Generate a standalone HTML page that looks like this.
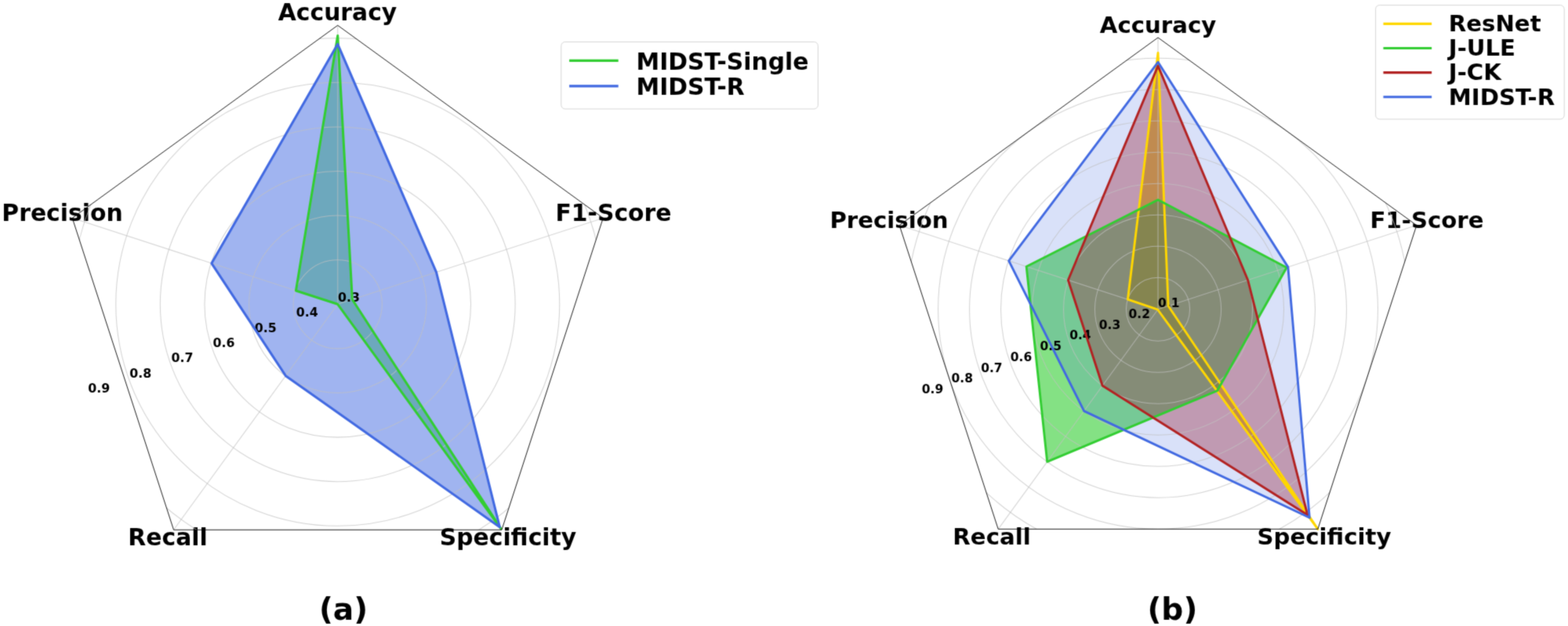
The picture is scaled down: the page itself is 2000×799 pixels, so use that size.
<!DOCTYPE html>
<html lang="en"><head><meta charset="utf-8"><title>Radar charts</title>
<style>
html,body{margin:0;padding:0;background:#fff;}
body{width:2000px;height:799px;overflow:hidden;}
svg{display:block;}
text{font-family:"DejaVu Sans","Liberation Sans",sans-serif;font-weight:bold;fill:#000;}
.ax{font-size:29.8px;}
.tk{font-size:15.8px;}
.lg{font-size:29.8px;}
.cap{font-size:39.2px;}
</style></head><body>
<svg width="2000" height="799" viewBox="0 0 2000 799">
<defs><filter id="soft" filterUnits="userSpaceOnUse" x="0" y="0" width="2000" height="799" color-interpolation-filters="sRGB"><feConvolveMatrix order="3" kernelMatrix="0.02560 0.10880 0.02560 0.10880 0.46240 0.10880 0.02560 0.10880 0.02560" divisor="1" edgeMode="duplicate" preserveAlpha="true"/></filter></defs><g filter="url(#soft)">
<rect x="-10" y="-10" width="2020" height="819" fill="#fff"/>
<clipPath id="clip0"><polygon points="430.75,32.35 92.22,278.31 221.53,676.27 639.97,676.27 769.28,278.31"/></clipPath>
<g clip-path="url(#clip0)">
<polygon points="430.75,45.59 377.46,370.98 430.75,388.30 639.01,674.95 449.32,382.27" fill="#32CD32" fill-opacity="0.5" stroke="none"/>
<polygon points="430.75,56.34 269.91,336.04 364.38,479.65 637.35,672.66 556.50,347.44" fill="#4169E1" fill-opacity="0.5" stroke="none"/>
<g fill="none" stroke="#c0c0c0" stroke-width="1.05" stroke-opacity="0.7">
<line x1="430.75" y1="388.3" x2="430.75" y2="32.35"/>
<line x1="430.75" y1="388.3" x2="92.22" y2="278.31"/>
<line x1="430.75" y1="388.3" x2="221.53" y2="676.27"/>
<line x1="430.75" y1="388.3" x2="639.97" y2="676.27"/>
<line x1="430.75" y1="388.3" x2="769.28" y2="278.31"/>
</g>
</g>
<text class="ax" x="430.5" y="25.7" text-anchor="middle">Accuracy</text>
<text class="ax" x="79.5" y="282" text-anchor="middle">Precision</text>
<text class="ax" x="782.5" y="282" text-anchor="middle">F1-Score</text>
<text class="ax" x="214" y="696" text-anchor="middle">Recall</text>
<text class="ax" x="648" y="695.5" text-anchor="middle">Specificity</text>
<g clip-path="url(#clip0)" fill="none" stroke="#c0c0c0" stroke-width="1.05" stroke-opacity="0.7">
<circle cx="430.75" cy="388.3" r="56.60"/>
<circle cx="430.75" cy="388.3" r="113.20"/>
<circle cx="430.75" cy="388.3" r="169.80"/>
<circle cx="430.75" cy="388.3" r="226.40"/>
<circle cx="430.75" cy="388.3" r="283.00"/>
<circle cx="430.75" cy="388.3" r="339.60"/>
</g>
<text class="tk" x="444.95" y="384.95" text-anchor="middle">0.3</text>
<text class="tk" x="391.82" y="404.26" text-anchor="middle">0.4</text>
<text class="tk" x="338.7" y="423.57" text-anchor="middle">0.5</text>
<text class="tk" x="285.57" y="442.88" text-anchor="middle">0.6</text>
<text class="tk" x="232.45" y="462.19" text-anchor="middle">0.7</text>
<text class="tk" x="179.32" y="481.5" text-anchor="middle">0.8</text>
<text class="tk" x="126.2" y="500.81" text-anchor="middle">0.9</text>
<polygon points="430.75,45.59 377.46,370.98 430.75,388.30 639.01,674.95 449.32,382.27" fill="none" stroke="#32CD32" stroke-width="3.05" stroke-linejoin="round"/>
<polygon points="430.75,56.34 269.91,336.04 364.38,479.65 637.35,672.66 556.50,347.44" fill="none" stroke="#4169E1" stroke-width="3.05" stroke-linejoin="round"/>
<polygon points="430.75,32.35 92.22,278.31 221.53,676.27 639.97,676.27 769.28,278.31" fill="none" stroke="#000" stroke-width="0.88" stroke-linejoin="miter"/>
<rect x="715.8" y="53.5" width="327.6" height="85.5" rx="5" fill="#fff" fill-opacity="0.8" stroke="#ccc" stroke-opacity="0.8" stroke-width="1"/>
<line x1="727.7" y1="77.4" x2="787.1" y2="77.4" stroke="#32CD32" stroke-width="3.2" stroke-linecap="square"/>
<text class="lg" x="811.5" y="88.5">MIDST-Single</text>
<line x1="727.7" y1="109.8" x2="787.1" y2="109.8" stroke="#4169E1" stroke-width="3.2" stroke-linecap="square"/>
<text class="lg" x="811.5" y="121.0">MIDST-R</text>
<text class="cap" x="438.1" y="791.0" text-anchor="middle">(a)</text>
<clipPath id="clip1"><polygon points="1477.05,47.95 1147.22,287.58 1273.21,675.32 1680.89,675.32 1806.88,287.58"/></clipPath>
<g clip-path="url(#clip1)">
<polygon points="1477.05,67.51 1438.46,382.21 1476.70,395.24 1680.91,675.34 1490.17,390.49" fill="#FFD700" fill-opacity="0.8" stroke="none"/>
<polygon points="1477.05,255.02 1309.18,340.20 1335.70,589.30 1552.60,498.74 1641.12,341.44" fill="#32CD32" fill-opacity="0.6" stroke="none"/>
<polygon points="1477.05,84.11 1362.41,357.50 1406.20,492.27 1667.75,657.23 1591.69,357.50" fill="#B22222" fill-opacity="0.4" stroke="none"/>
<polygon points="1477.05,79.27 1286.74,332.92 1382.70,524.61 1670.33,660.78 1642.87,340.87" fill="#4169E1" fill-opacity="0.2" stroke="none"/>
<g fill="none" stroke="#c0c0c0" stroke-width="1.05" stroke-opacity="0.7">
<line x1="1477.05" y1="394.75" x2="1477.05" y2="47.95"/>
<line x1="1477.05" y1="394.75" x2="1147.22" y2="287.58"/>
<line x1="1477.05" y1="394.75" x2="1273.21" y2="675.32"/>
<line x1="1477.05" y1="394.75" x2="1680.89" y2="675.32"/>
<line x1="1477.05" y1="394.75" x2="1806.88" y2="287.58"/>
</g>
</g>
<text class="ax" x="1477.05" y="42" text-anchor="middle" style="font-size:29.2px">Accuracy</text>
<text class="ax" x="1134" y="291.0" text-anchor="middle" style="font-size:29.2px">Precision</text>
<text class="ax" x="1820" y="291.0" text-anchor="middle" style="font-size:29.2px">F1-Score</text>
<text class="ax" x="1265" y="694.8" text-anchor="middle" style="font-size:29.2px">Recall</text>
<text class="ax" x="1689" y="694.9" text-anchor="middle" style="font-size:29.2px">Specificity</text>
<g clip-path="url(#clip1)" fill="none" stroke="#c0c0c0" stroke-width="1.05" stroke-opacity="0.7">
<circle cx="1477.05" cy="394.75" r="0.60"/>
<circle cx="1477.05" cy="394.75" r="40.58"/>
<circle cx="1477.05" cy="394.75" r="80.56"/>
<circle cx="1477.05" cy="394.75" r="120.54"/>
<circle cx="1477.05" cy="394.75" r="160.52"/>
<circle cx="1477.05" cy="394.75" r="200.50"/>
<circle cx="1477.05" cy="394.75" r="240.48"/>
<circle cx="1477.05" cy="394.75" r="280.46"/>
<circle cx="1477.05" cy="394.75" r="320.44"/>
</g>
<text class="tk" x="1490.85" y="392.15" text-anchor="middle" style="font-size:15.5px">0.1</text>
<text class="tk" x="1453.19" y="405.9" text-anchor="middle" style="font-size:15.5px">0.2</text>
<text class="tk" x="1415.53" y="419.65" text-anchor="middle" style="font-size:15.5px">0.3</text>
<text class="tk" x="1377.87" y="433.4" text-anchor="middle" style="font-size:15.5px">0.4</text>
<text class="tk" x="1340.21" y="447.15" text-anchor="middle" style="font-size:15.5px">0.5</text>
<text class="tk" x="1302.55" y="460.9" text-anchor="middle" style="font-size:15.5px">0.6</text>
<text class="tk" x="1264.89" y="474.65" text-anchor="middle" style="font-size:15.5px">0.7</text>
<text class="tk" x="1227.23" y="488.4" text-anchor="middle" style="font-size:15.5px">0.8</text>
<text class="tk" x="1189.57" y="502.15" text-anchor="middle" style="font-size:15.5px">0.9</text>
<polygon points="1477.05,67.51 1438.46,382.21 1476.70,395.24 1680.91,675.34 1490.17,390.49" fill="none" stroke="#FFD700" stroke-width="2.9" stroke-linejoin="round"/>
<polygon points="1477.05,255.02 1309.18,340.20 1335.70,589.30 1552.60,498.74 1641.12,341.44" fill="none" stroke="#32CD32" stroke-width="2.9" stroke-linejoin="round"/>
<polygon points="1477.05,84.11 1362.41,357.50 1406.20,492.27 1667.75,657.23 1591.69,357.50" fill="none" stroke="#B22222" stroke-width="2.9" stroke-linejoin="round"/>
<polygon points="1477.05,79.27 1286.74,332.92 1382.70,524.61 1670.33,660.78 1642.87,340.87" fill="none" stroke="#4169E1" stroke-width="2.9" stroke-linejoin="round"/>
<polygon points="1477.05,47.95 1147.22,287.58 1273.21,675.32 1680.89,675.32 1806.88,287.58" fill="none" stroke="#000" stroke-width="0.88" stroke-linejoin="miter"/>
<rect x="1754.6" y="6.6" width="240.6" height="145.5" rx="5" fill="#fff" fill-opacity="0.8" stroke="#ccc" stroke-opacity="0.8" stroke-width="1"/>
<line x1="1766.0" y1="30.4" x2="1824.6" y2="30.4" stroke="#FFD700" stroke-width="3.1" stroke-linecap="square"/>
<text class="lg" x="1847.8" y="40.2" style="font-size:29.2px">ResNet</text>
<line x1="1766.0" y1="61.5" x2="1824.6" y2="61.5" stroke="#32CD32" stroke-width="3.1" stroke-linecap="square"/>
<text class="lg" x="1847.8" y="71.3" style="font-size:29.2px">J-ULE</text>
<line x1="1766.0" y1="92.6" x2="1824.6" y2="92.6" stroke="#B22222" stroke-width="3.1" stroke-linecap="square"/>
<text class="lg" x="1847.8" y="102.4" style="font-size:29.2px">J-CK</text>
<line x1="1766.0" y1="123.7" x2="1824.6" y2="123.7" stroke="#4169E1" stroke-width="3.1" stroke-linecap="square"/>
<text class="lg" x="1847.8" y="133.5" style="font-size:29.2px">MIDST-R</text>
<text class="cap" x="1495.4" y="791.1" text-anchor="middle">(b)</text>
</g></svg></body></html>
